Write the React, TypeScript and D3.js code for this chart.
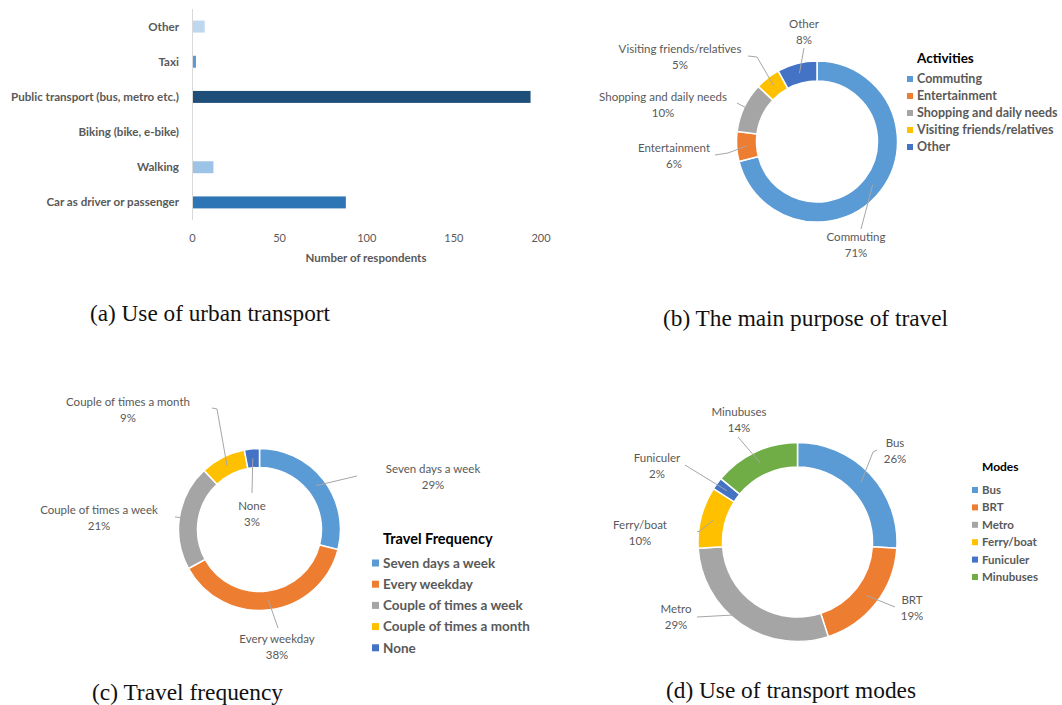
import React from "react";
import * as d3 from "d3";

// (a) use of urban transport
const usageCats = [
  "Other",
  "Taxi",
  "Public transport (bus, metro etc.)",
  "Biking (bike, e-bike)",
  "Walking",
  "Car as driver or passenger",
];
const usageVals = [7, 2, 194, 0, 12, 88];
const usageTicks = [0, 50, 100, 150, 200];

// (b) main purpose
const purposeCats = ["Commuting", "Entertainment", "Shopping and daily needs", "Visiting friends/relatives", "Other"];
const purposeVals = [71, 6, 10, 5, 8];

// (c) travel frequency
const freqCats = ["Seven days a week", "Every weekday", "Couple of times a week", "Couple of times a month", "None"];
const freqVals = [29, 38, 21, 9, 3];

// (d) transport modes
const modeCats = ["Bus", "BRT", "Metro", "Ferry/boat", "Funiculer", "Minubuses"];
const modeVals = [26, 19, 29, 10, 2, 14];

const usageColors = ["#bdd7ee", "#5b9bd5", "#1f4e79", "#9dc3e6", "#9dc3e6", "#2e75b6"];
const office = ["#5b9bd5", "#ed7d31", "#a5a5a5", "#ffc000", "#4472c4", "#70ad47"];

const FONT = "Lato, 'Open Sans', sans-serif";
const GRAY = "#595959";

// label placement (absolute) + leader line elbow points, per slice
const purposeLabels = [
  { x: 856, y: 237, pts: [[861, 229]] },
  { x: 674, y: 148, pts: [[715, 155], [728, 153]] },
  { x: 663, y: 97, pts: [[737, 103]] },
  { x: 680, y: 49, pts: [[748, 56], [757, 57]] },
  { x: 804, y: 24, pts: [[804, 48]] },
];
const freqLabels = [
  { x: 433, y: 469, pts: [[357, 476]] },
  { x: 277, y: 639, pts: [[278, 628]] },
  { x: 99, y: 510, pts: [[175, 517]] },
  { x: 128, y: 402, pts: [[212, 408], [217, 409]] },
  { x: 252, y: 506, pts: [[252, 493]] },
];
const modeLabels = [
  { x: 895, y: 443, pts: [[877, 450], [873, 452]] },
  { x: 912, y: 600, pts: [[895, 607]] },
  { x: 676, y: 609, pts: [[697, 617]] },
  { x: 640, y: 525, pts: [[697, 532], [700, 531]] },
  { x: 657, y: 458, pts: [[685, 465]] },
  { x: 739, y: 412, pts: [[738, 437]] },
];

type Lbl = { x: number; y: number; pts: number[][] };

function Donut(props: {
  cx: number; cy: number; r: number; ir: number;
  cats: string[]; vals: number[]; labels: Lbl[]; fs: number;
}) {
  const { cx, cy, r, ir, cats, vals, labels, fs } = props;
  const pie = d3.pie<number>().sort(null).value((d) => d);
  const arcs = pie(vals);
  const arc = d3.arc<d3.PieArcDatum<number>>().innerRadius(ir).outerRadius(r);
  const total = d3.sum(vals);
  return (
    <g>
      <g transform={`translate(${cx},${cy})`}>
        {arcs.map((a, i) => (
          <path key={i} d={arc(a) || ""} fill={office[i]} stroke="#fff" strokeWidth={1.5} />
        ))}
      </g>
      {arcs.map((a, i) => {
        const c = arc.centroid(a);
        const pts = [...labels[i].pts, [cx + c[0], cy + c[1]]];
        const line = d3.line()(pts as [number, number][]) || "";
        return <path key={"l" + i} d={line} fill="none" stroke="#a6a6a6" strokeWidth={1} />;
      })}
      {labels.map((l, i) => (
        <text key={"t" + i} x={l.x} y={l.y} textAnchor="middle" fontFamily={FONT} fontSize={fs} fill={GRAY}>
          <tspan x={l.x} dy="0.35em">{cats[i]}</tspan>
          <tspan x={l.x} dy="1.35em">{Math.round((vals[i] / total) * 100)}%</tspan>
        </text>
      ))}
    </g>
  );
}

function Legend(props: {
  x: number; y: number; title: string; cats: string[]; step: number;
  fs: number; tfs: number; gap: number; sq: number;
}) {
  const { x, y, title, cats, step, fs, tfs, gap, sq } = props;
  return (
    <g fontFamily={FONT}>
      <text x={x + sq + 4} y={y} dy="0.35em" fontSize={tfs} fontWeight="bold" fill="#000">{title}</text>
      {cats.map((c, i) => {
        const yy = y + gap + i * step;
        return (
          <g key={i}>
            <rect x={x} y={yy - sq / 2} width={sq} height={sq} fill={office[i]} />
            <text x={x + sq + 4} y={yy} dy="0.35em" fontSize={fs} fontWeight="bold" fill={GRAY}>{c}</text>
          </g>
        );
      })}
    </g>
  );
}

function BarChart() {
  const x = d3.scaleLinear().domain([0, 200]).range([192.5, 541]);
  const y = d3.scaleBand().domain(usageCats).range([9, 220]).paddingInner(0.66).paddingOuter(0.33);
  return (
    <g fontFamily={FONT}>
      {usageCats.map((c, i) => (
        <g key={c}>
          <rect x={x(0)} y={y(c)!} width={x(usageVals[i]) - x(0)} height={y.bandwidth()} fill={usageColors[i]} />
          <text x={179} y={y(c)! + y.bandwidth() / 2} dy="0.35em" textAnchor="end" fontSize={11.6} fontWeight="bold" fill={GRAY}>{c}</text>
        </g>
      ))}
      <line x1={x(0)} x2={x(0)} y1={9} y2={220} stroke="#d9d9d9" strokeWidth={1} />
      {usageTicks.map((t) => (
        <text key={t} x={x(t)} y={238} dy="0.35em" textAnchor="middle" fontSize={11} fill={GRAY}>{t}</text>
      ))}
      <text x={366} y={258} dy="0.35em" textAnchor="middle" fontSize={11.5} fontWeight="bold" fill={GRAY}>Number of respondents</text>
    </g>
  );
}

function Caption(props: { x: number; y: number; w: number; text: string }) {
  return (
    <text x={props.x} y={props.y} fontFamily="'Liberation Serif', 'DejaVu Serif', serif" fontSize={23}
      textLength={props.w} lengthAdjust="spacingAndGlyphs" fill="#111">{props.text}</text>
  );
}

export default function App() {
  return (
    <svg width={1062} height={705} style={{ position: "absolute", left: 0, top: 0, background: "#fff" }}>
      <BarChart />
      <Donut cx={817} cy={141.5} r={80.5} ir={60.5} cats={purposeCats} vals={purposeVals} labels={purposeLabels} fs={11.5} />
      <Legend x={907} y={58} title="Activities" cats={purposeCats} step={17} gap={21} fs={12.5} tfs={13.5} sq={6} />
      <Donut cx={259.5} cy={529.5} r={81} ir={62} cats={freqCats} vals={freqVals} labels={freqLabels} fs={11.5} />
      <Legend x={372} y={539} title="Travel Frequency" cats={freqCats} step={21.2} gap={24} fs={13.5} tfs={14.5} sq={7} />
      <Donut cx={797.5} cy={542} r={99.5} ir={75} cats={modeCats} vals={modeVals} labels={modeLabels} fs={11.5} />
      <Legend x={972} y={467} title="Modes" cats={modeCats} step={17.4} gap={23} fs={11.5} tfs={12} sq={6} />
      <Caption x={90} y={321} w={240} text="(a) Use of urban transport" />
      <Caption x={663} y={326} w={285} text="(b) The main purpose of travel" />
      <Caption x={92} y={700} w={191} text="(c) Travel frequency" />
      <Caption x={666} y={698} w={250} text="(d) Use of transport modes" />
    </svg>
  );
}
